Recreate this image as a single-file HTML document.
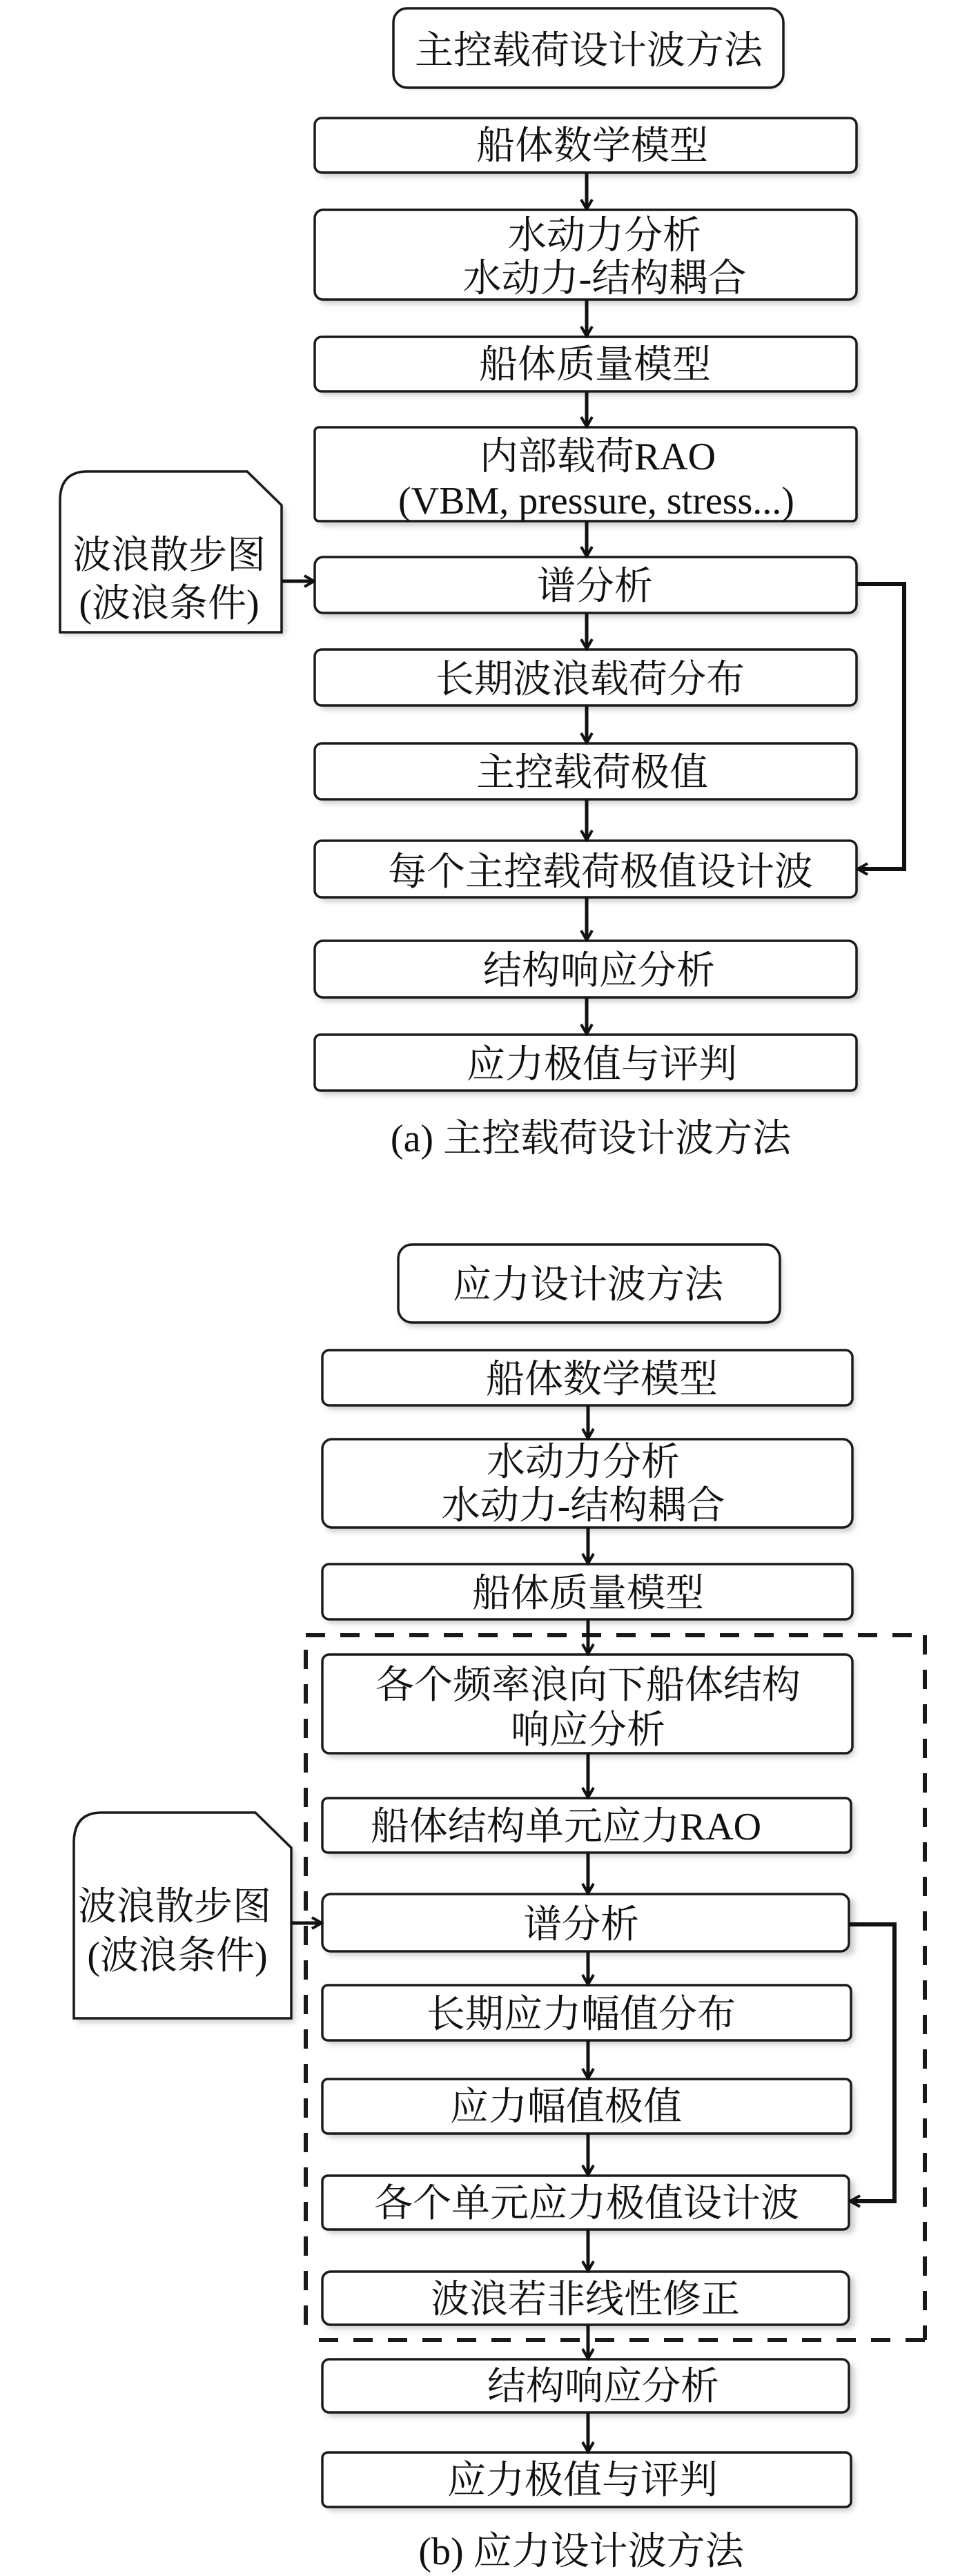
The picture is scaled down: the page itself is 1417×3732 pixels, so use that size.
<!DOCTYPE html>
<html><head><meta charset="utf-8"><style>
html,body{margin:0;padding:0;background:#fff;}
svg{display:block;}
text{font-family:"Liberation Serif","Noto Serif CJK SC",serif;font-size:56px;fill:#111;}
</style></head><body>
<svg width="1417" height="3732" viewBox="0 0 1417 3732" xmlns="http://www.w3.org/2000/svg">
<defs>
<filter id="sh" x="-5%" y="-20%" width="115%" height="150%"><feGaussianBlur stdDeviation="4"/></filter>
<marker id="ah" viewBox="0 0 20 20" refX="17" refY="10" markerWidth="20" markerHeight="20" markerUnits="userSpaceOnUse" orient="auto"><path d="M3,2 L17,10 L3,18" fill="none" stroke="#111" stroke-width="4"/></marker>
</defs>
<g id="boxes" stroke="#1a1a1a" stroke-width="3.5" fill="#fff">
<!-- (a) -->
<rect x="575" y="20" width="560" height="108" rx="20" fill="#ccc" stroke="none" filter="url(#sh)"/>
<rect x="570" y="12" width="565" height="115" rx="20"/>
</g>
<g stroke="#1a1a1a" stroke-width="3.5" fill="#fff">
<!-- shadows -->
<g fill="#ccc" stroke="none" filter="url(#sh)">
<rect x="462" y="177" width="783" height="79" rx="10"/>
<rect x="462" y="310" width="783" height="130" rx="10"/>
<rect x="462" y="494" width="783" height="79" rx="10"/>
<rect x="462" y="625" width="783" height="137" rx="10"/>
<rect x="462" y="813" width="783" height="81" rx="10"/>
<rect x="462" y="947" width="783" height="81" rx="10"/>
<rect x="462" y="1083" width="783" height="81" rx="10"/>
<rect x="462" y="1224" width="783" height="82" rx="10"/>
<rect x="462" y="1369" width="783" height="82" rx="10"/>
<rect x="462" y="1505" width="783" height="81" rx="10"/>
<rect x="580" y="1810" width="553" height="112" rx="20"/>
<rect x="472" y="1962" width="766" height="80" rx="10"/>
<rect x="472" y="2091" width="766" height="128" rx="10"/>
<rect x="472" y="2272" width="766" height="80" rx="10"/>
<rect x="472" y="2403" width="766" height="143" rx="10"/>
<rect x="472" y="2611" width="766" height="79" rx="10"/>
<rect x="472" y="2750" width="766" height="83" rx="10"/>
<rect x="472" y="2882" width="766" height="80" rx="10"/>
<rect x="472" y="3018" width="766" height="79" rx="10"/>
<rect x="472" y="3158" width="766" height="78" rx="10"/>
<rect x="472" y="3297" width="766" height="77" rx="10"/>
<rect x="472" y="3424" width="766" height="77" rx="10"/>
<rect x="472" y="3559" width="766" height="79" rx="10"/>
<path d="M90,920 L90,730 Q90,688 130,688 L363,688 L413,738 L413,920 Z"/>
<path d="M111,2930 L111,2675 Q111,2632 150,2632 L375,2632 L427,2683 L427,2930 Z"/>
</g>
<rect x="456" y="171" width="785" height="79" rx="10"/>
<rect x="456" y="304" width="785" height="130" rx="12"/>
<rect x="456" y="488" width="785" height="79" rx="10"/>
<rect x="456" y="619" width="785" height="136" rx="6"/>
<rect x="456" y="807" width="785" height="81" rx="12"/>
<rect x="456" y="941" width="785" height="81" rx="10"/>
<rect x="456" y="1077" width="785" height="81" rx="10"/>
<rect x="456" y="1218" width="785" height="82" rx="10"/>
<rect x="456" y="1363" width="785" height="82" rx="12"/>
<rect x="456" y="1499" width="785" height="81" rx="8"/>
<path d="M87,916 L87,725 Q87,683 127,683 L358,683 L408,732 L408,916 Z"/>
<!-- (b) -->
<rect x="577" y="1803" width="553" height="113" rx="20"/>
<rect x="467" y="1956" width="768" height="80" rx="10"/>
<rect x="467" y="2085" width="768" height="128" rx="14"/>
<rect x="467" y="2266" width="768" height="80" rx="10"/>
<rect x="467" y="2397" width="768" height="143" rx="10"/>
<rect x="467" y="2605" width="766" height="79" rx="8"/>
<rect x="467" y="2744" width="763" height="83" rx="12"/>
<rect x="467" y="2876" width="766" height="80" rx="8"/>
<rect x="467" y="3012" width="766" height="79" rx="8"/>
<rect x="467" y="3152" width="763" height="78" rx="8"/>
<rect x="467" y="3291" width="763" height="77" rx="12"/>
<rect x="467" y="3418" width="763" height="77" rx="10"/>
<rect x="467" y="3553" width="766" height="79" rx="8"/>
<path d="M107,2924 L107,2670 Q107,2626 147,2626 L370,2626 L422,2677 L422,2924 Z"/>
</g>
<!-- dashed region -->
<g stroke="#1a1a1a" stroke-width="6" fill="none" stroke-dasharray="28 22">
<line x1="443" y1="2369" x2="1340" y2="2369"/>
<line x1="1340" y1="2369" x2="1340" y2="3390"/>
<line x1="1340" y1="3390" x2="443" y2="3390"/>
<line x1="443" y1="2390" x2="443" y2="3390"/>
</g>
<!-- arrows -->
<g stroke="#111" stroke-width="5" fill="none" marker-end="url(#ah)">
<line x1="850" y1="250" x2="850" y2="303"/>
<line x1="850" y1="434" x2="850" y2="487"/>
<line x1="850" y1="567" x2="850" y2="618"/>
<line x1="850" y1="755" x2="850" y2="806"/>
<line x1="850" y1="888" x2="850" y2="940"/>
<line x1="850" y1="1022" x2="850" y2="1076"/>
<line x1="850" y1="1158" x2="850" y2="1217"/>
<line x1="850" y1="1300" x2="850" y2="1362"/>
<line x1="850" y1="1445" x2="850" y2="1498"/>
<line x1="408" y1="842" x2="455" y2="842"/>
<polyline points="1241,846 1310,846 1310,1259 1243,1259" stroke-width="6"/>
<line x1="852" y1="2036" x2="852" y2="2084"/>
<line x1="852" y1="2213" x2="852" y2="2265"/>
<line x1="852" y1="2346" x2="852" y2="2396"/>
<line x1="852" y1="2540" x2="852" y2="2604"/>
<line x1="852" y1="2684" x2="852" y2="2743"/>
<line x1="852" y1="2827" x2="852" y2="2875"/>
<line x1="852" y1="2956" x2="852" y2="3011"/>
<line x1="852" y1="3091" x2="852" y2="3151"/>
<line x1="852" y1="3230" x2="852" y2="3290"/>
<line x1="852" y1="3368" x2="852" y2="3417"/>
<line x1="852" y1="3495" x2="852" y2="3552"/>
<line x1="422" y1="2786" x2="466" y2="2786"/>
<polyline points="1230,2788 1296,2788 1296,3189 1232,3189" stroke-width="6"/>
</g>
<!-- text -->
<g text-anchor="middle">
<text x="853" y="92">主控载荷设计波方法</text>
<text x="858" y="230">船体数学模型</text>
<text x="876" y="360">水动力分析</text>
<text x="876" y="422">水动力-结构耦合</text>
<text x="862" y="547">船体质量模型</text>
<text x="866" y="680">内部载荷RAO</text>
<text x="864" y="744">(VBM, pressure, stress...)</text>
<text x="862" y="868">谱分析</text>
<text x="855" y="1003">长期波浪载荷分布</text>
<text x="858" y="1138">主控载荷极值</text>
<text x="870" y="1282">每个主控载荷极值设计波</text>
<text x="868" y="1425">结构响应分析</text>
<text x="872" y="1561">应力极值与评判</text>
<text x="856" y="1668">(a) 主控载荷设计波方法</text>
<text x="245" y="823">波浪散步图</text>
<text x="245" y="893">(波浪条件)</text>
<text x="852" y="1880">应力设计波方法</text>
<text x="872" y="2017">船体数学模型</text>
<text x="845" y="2137">水动力分析</text>
<text x="845" y="2200">水动力-结构耦合</text>
<text x="852" y="2327">船体质量模型</text>
<text x="852" y="2460">各个频率浪向下船体结构</text>
<text x="852" y="2525">响应分析</text>
<text x="820" y="2665">船体结构单元应力RAO</text>
<text x="842" y="2807">谱分析</text>
<text x="842" y="2937">长期应力幅值分布</text>
<text x="820" y="3071">应力幅值极值</text>
<text x="850" y="3211">各个单元应力极值设计波</text>
<text x="848" y="3350">波浪若非线性修正</text>
<text x="874" y="3476">结构响应分析</text>
<text x="844" y="3612">应力极值与评判</text>
<text x="842" y="3715">(b) 应力设计波方法</text>
<text x="253" y="2781">波浪散步图</text>
<text x="257" y="2852">(波浪条件)</text>
</g>
</svg>
</body></html>
